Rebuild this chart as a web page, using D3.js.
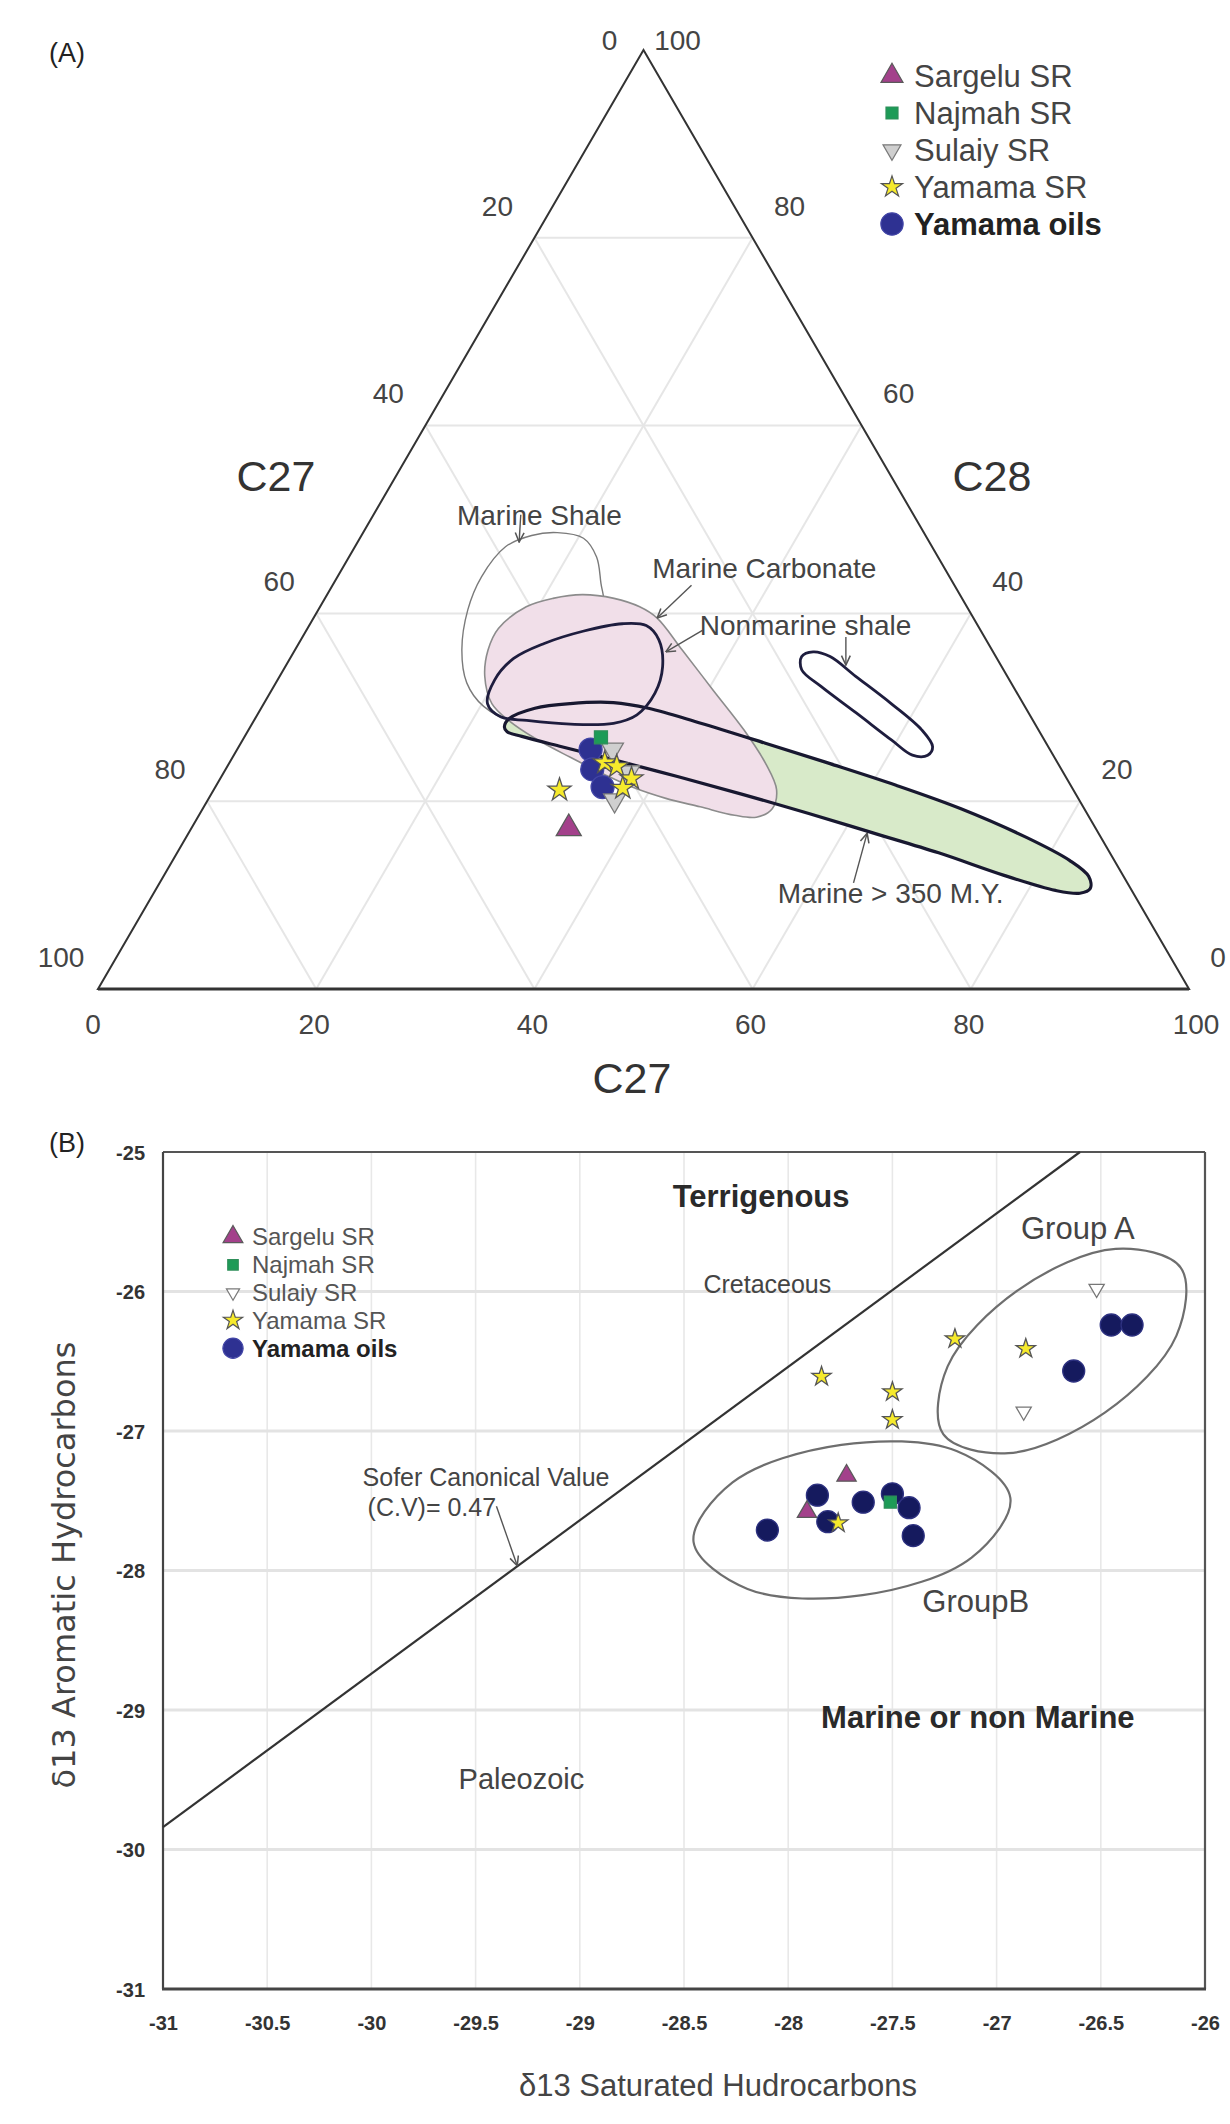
<!DOCTYPE html>
<meta charset="utf-8">
<style>
body { margin: 0; background: #fff; }
svg { display: block; font-family: "Liberation Sans", Arial, sans-serif; }
</style>
<body>
<script src="https://d3js.org/d3.v7.min.js"></script>
<script>

// ---------- data, panel A (ternary, [C27, C28, C29] in %) ----------
var ternTicks = [0, 20, 40, 60, 80, 100];

var sargeluA = [[48.3, 17.1, 34.6]];
var najmahA = [[40.5, 26.8, 32.7]];
var sulaiyA = [[40.1, 25.5, 34.4], [42.6, 20.1, 37.3], [39.8, 23.1, 37.1]];
var yamamaSRA = [[47.1, 21.2, 31.7], [41.5, 24.1, 34.4], [40.6, 23.7, 35.7], [39.9, 22.4, 37.7], [41.2, 21.4, 37.4]];
var yamamaOilsA = [[42.1, 25.5, 32.4], [43.0, 23.4, 33.6], [43.0, 21.5, 35.5]];

var marineShale = [[33.6,48.6,17.8],[31.5,48.0,20.5],[31.3,46.0,22.7],[32.3,43.2,24.5],[33.4,40.4,26.2],[37.8,35.4,26.8],[43.5,30.4,26.1],[47.9,28.8,23.3],[49.6,30.1,20.3],[49.9,32.6,17.5],[48.6,36.1,15.3],[45.9,40.4,13.7],[42.9,43.9,13.2],[39.1,47.1,13.8],[36.1,48.3,15.6]];
var marineCarbonate = [[40.4,40.7,18.9],[37.5,41.6,20.9],[34.6,42.0,23.4],[31.9,41.6,26.5],[30.0,40.7,29.3],[29.0,39.5,31.5],[28.4,36.1,35.5],[27.7,31.8,40.5],[27.0,27.6,45.4],[26.8,24.0,49.2],[27.2,21.2,51.6],[28.6,19.2,52.2],[30.5,18.3,51.2],[32.4,18.5,49.1],[35.1,19.4,45.5],[37.8,20.3,41.9],[40.1,21.4,38.5],[42.1,22.8,35.1],[44.4,24.7,30.9],[46.6,26.7,26.7],[48.0,28.5,23.5],[48.7,30.4,20.9],[47.9,33.3,18.8],[46.2,36.1,17.7],[44.1,38.4,17.5]];
var nonmarineShale = [[49.1,30.4,20.5],[47.2,32.9,19.9],[44.3,35.2,20.5],[40.7,36.8,22.5],[36.5,38.1,25.4],[32.5,38.9,28.6],[30.4,38.7,30.9],[30.0,37.2,32.8],[31.1,34.3,34.6],[33.2,31.5,35.3],[36.0,29.2,34.8],[38.6,28.3,33.1],[42.6,28.2,29.2],[46.4,28.6,25.0],[48.6,29.0,22.4]];
var nonmarineShale2 = [[17.8,35.4,46.8],[16.5,35.9,47.6],[15.2,35.4,49.4],[13.9,33.3,52.8],[12.1,30.4,57.5],[10.7,27.6,61.7],[10.6,25.8,63.6],[11.5,24.9,63.6],[12.9,24.9,62.2],[14.0,26.5,59.5],[15.8,29.4,54.8],[17.6,32.2,50.2],[18.5,34.0,47.5]];
var marine350 = [[48.8,27.9,23.3],[47.9,28.8,23.3],[45.0,29.9,25.1],[41.5,30.4,28.1],[37.5,30.5,32.0],[34.6,29.9,35.5],[30.6,28.3,41.1],[25.8,26.2,48.0],[20.9,24.0,55.1],[16.0,21.7,62.3],[11.3,19.2,69.5],[6.9,16.2,76.9],[4.1,13.7,82.2],[3.2,12.0,84.8],[3.7,10.7,85.6],[4.9,10.2,84.9],[7.0,10.5,82.5],[10.9,12.1,77.0],[15.7,14.5,69.8],[20.6,16.6,62.8],[25.5,18.7,55.8],[30.5,20.7,48.8],[35.5,22.6,41.9],[40.5,24.4,35.1],[44.6,25.8,29.6],[47.7,26.9,25.4],[48.8,27.4,23.8]];

// ---------- data, panel B ([d13C saturates, d13C aromatics]) ----------
var satTicks = [-31, -30.5, -30, -29.5, -29, -28.5, -28, -27.5, -27, -26.5, -26];
var aroTicks = [-31, -30, -29, -28, -27, -26, -25];

var sargeluB = [[-27.72, -27.32], [-27.91, -27.58]];
var najmahB = [[-27.51, -27.51]];
var sulaiyB = [[-26.52, -25.98], [-26.87, -26.86]];
var yamamaSRB = [[-27.84, -26.61], [-27.50, -26.72], [-27.50, -26.92], [-27.20, -26.34], [-26.86, -26.41], [-27.76, -27.66]];
var yamamaOilsB = [[-28.10, -27.71], [-27.86, -27.46], [-27.81, -27.65], [-27.64, -27.51], [-27.50, -27.45], [-27.42, -27.55], [-27.40, -27.75], [-26.45, -26.24], [-26.35, -26.24], [-26.63, -26.57]];

var soferLine = [[-31, -29.84], [-26.6, -25]];
var groupA = [[-26.116,-25.830],[-26.137,-26.316],[-26.479,-26.867],[-26.943,-27.159],[-27.256,-27.023],[-27.235,-26.537],[-26.893,-25.986],[-26.429,-25.694]];
var groupB = [[-26.934,-27.479],[-27.120,-27.907],[-27.643,-28.177],[-28.195,-28.132],[-28.454,-27.797],[-28.267,-27.369],[-27.745,-27.099],[-27.192,-27.144]];

var seriesNames = ["Sargelu SR", "Najmah SR", "Sulaiy SR", "Yamama SR", "Yamama oils"];

// ---------- setup ----------
var svg = d3.select("body").append("svg")
    .attr("width", 1230)
    .attr("height", 2124);

svg.append("rect").attr("width", 1230).attr("height", 2124).attr("fill", "#fff");

svg.append("defs").append("marker")
    .attr("id", "arr")
    .attr("viewBox", "0 0 10 10")
    .attr("refX", 9.5).attr("refY", 5)
    .attr("markerWidth", 11).attr("markerHeight", 11)
    .attr("markerUnits", "userSpaceOnUse")
    .attr("orient", "auto")
  .append("path")
    .attr("d", "M1,1 L9.5,5 L1,9")
    .attr("fill", "none")
    .attr("stroke", "#555")
    .attr("stroke-width", 1.4);

// marker styles (size = d3.symbol area)
var sym = {
  sargelu:  {type: d3.symbolTriangle, fill: "#a3418b", stroke: "#5a5a5a", rot: 0},
  najmah:   {type: d3.symbolSquare,   fill: "#1d9b57", stroke: "#2f8f5a", rot: 0},
  sulaiy:   {type: d3.symbolTriangle, fill: "#cfcfcf", stroke: "#7a7a7a", rot: 180},
  yamamaSR: {type: d3.symbolStar,     fill: "#f6ea2c", stroke: "#555",    rot: 0},
  oils:     {type: d3.symbolCircle,   fill: "#2e3192", stroke: "#4245a6", rot: 0}
};
var order = ["sargelu", "najmah", "sulaiy", "yamamaSR", "oils"];

function drawPts(g, data, key, size, pos, over) {
  var s = Object.assign({}, sym[key], over || {});
  g.append("g").selectAll("path")
      .data(data)
    .enter().append("path")
      .attr("d", d3.symbol(s.type, size))
      .attr("transform", function(d) { return "translate(" + pos(d) + ") rotate(" + s.rot + ")"; })
      .attr("fill", s.fill)
      .attr("stroke", s.stroke)
      .attr("stroke-width", 1.3);
}

// ================= PANEL A : ternary =================
var gA = svg.append("g");

var tx = d3.scaleLinear().domain([0, 100]).range([98, 1189]);
var ty = d3.scaleLinear().domain([0, 100]).range([989, 50]);
function proj(p) { return [tx(p[2] + p[1] / 2), ty(p[1])]; }

var gridSegs = [];
ternTicks.filter(function(v) { return v > 0 && v < 100; }).forEach(function(v) {
  gridSegs.push([[100 - v, v, 0], [0, v, 100 - v]]);
  gridSegs.push([[100 - v, 0, v], [0, 100 - v, v]]);
  gridSegs.push([[v, 100 - v, 0], [v, 0, 100 - v]]);
});
gA.selectAll(".grid")
    .data(gridSegs)
  .enter().append("line")
    .attr("x1", function(d) { return proj(d[0])[0]; })
    .attr("y1", function(d) { return proj(d[0])[1]; })
    .attr("x2", function(d) { return proj(d[1])[0]; })
    .attr("y2", function(d) { return proj(d[1])[1]; })
    .attr("stroke", "#e6e6e6")
    .attr("stroke-width", 2);

var field = d3.line()
    .x(function(d) { return proj(d)[0]; })
    .y(function(d) { return proj(d)[1]; })
    .curve(d3.curveCatmullRomClosed.alpha(0.5));

gA.append("path").attr("d", field(marine350)).attr("fill", "#d8eac9").attr("stroke", "none");
gA.append("path").attr("d", field(marineShale)).attr("fill", "none").attr("stroke", "#7a7a7a").attr("stroke-width", 1.4);
gA.append("path").attr("d", field(marineCarbonate)).attr("fill", "#f1dfe9").attr("stroke", "#8c8c8c").attr("stroke-width", 1.6);
gA.append("path").attr("d", field(marine350)).attr("fill", "none").attr("stroke", "#181830").attr("stroke-width", 3.2);
gA.append("path").attr("d", field(nonmarineShale)).attr("fill", "none").attr("stroke", "#1e1d3e").attr("stroke-width", 2.8);
gA.append("path").attr("d", field(nonmarineShale2)).attr("fill", "none").attr("stroke", "#1e1d3e").attr("stroke-width", 2.8);

// triangle frame
var corners = [[0, 100, 0], [100, 0, 0], [0, 0, 100]];
gA.append("path")
    .attr("d", "M" + corners.map(proj).join("L") + "Z")
    .attr("fill", "none")
    .attr("stroke", "#333")
    .attr("stroke-width", 2);
gA.append("line")
    .attr("x1", proj(corners[1])[0]).attr("y1", proj(corners[1])[1])
    .attr("x2", proj(corners[2])[0]).attr("y2", proj(corners[2])[1])
    .attr("stroke", "#333").attr("stroke-width", 3);

// tick labels
function tickText(p, dx, dy, txt) {
  var q = proj(p);
  gA.append("text")
      .attr("x", q[0] + dx).attr("y", q[1] + dy)
      .attr("text-anchor", "middle")
      .attr("dy", "0.35em")
      .attr("font-size", 28)
      .attr("fill", "#444")
      .text(txt);
}
ternTicks.forEach(function(v) {
  tickText([v, 100 - v, 0], v === 0 ? -34 : -37, v === 0 ? -10 : -32, v);                       // left (C27)
  tickText([0, v, 100 - v], v === 100 ? 34 : (v === 0 ? 29 : 37), v === 100 ? -10 : -32, v);   // right (C28)
  tickText([100 - v, 0, v], v === 0 ? -5 : (v === 100 ? 7 : -2), 35, v);                       // bottom
});

gA.append("text").attr("x", 276).attr("y", 476).attr("dy", "0.35em").attr("text-anchor", "middle")
    .attr("font-size", 43).attr("fill", "#333").text("C27");
gA.append("text").attr("x", 992).attr("y", 476).attr("dy", "0.35em").attr("text-anchor", "middle")
    .attr("font-size", 43).attr("fill", "#333").text("C28");
gA.append("text").attr("x", 632).attr("y", 1078).attr("dy", "0.35em").attr("text-anchor", "middle")
    .attr("font-size", 43).attr("fill", "#333").text("C27");

gA.append("text").attr("x", 67).attr("y", 53).attr("dy", "0.35em").attr("text-anchor", "middle")
    .attr("font-size", 27).attr("fill", "#222").text("(A)");

// field labels and arrows
var notesA = [
  {t: "Marine Shale", at: [42.4, 49.4, 8.2], arrow: [[36.0, 50.5, 13.5], [37.6, 47.6, 14.8]]},
  {t: "Marine Carbonate", at: [27.3, 43.8, 28.9], arrow: [[24.1, 43.0, 32.9], [29.0, 39.5, 31.5]]},
  {t: "Nonmarine shale", at: [26.0, 37.7, 36.3], arrow: [[25.5, 38.2, 36.3], [30.0, 35.9, 34.1]]},
  {t: null, arrow: [[12.7, 37.5, 49.8], [14.2, 34.5, 51.3]]},
  {t: "Marine > 350 M.Y.", at: [33.1, 9.2, 57.7], arrow: [[25.1, 11.3, 63.6], [21.2, 16.6, 62.2]]}
];
notesA.forEach(function(n) {
  var a = proj(n.arrow[0]), b = proj(n.arrow[1]);
  gA.append("line")
      .attr("x1", a[0]).attr("y1", a[1]).attr("x2", b[0]).attr("y2", b[1])
      .attr("stroke", "#555").attr("stroke-width", 1.4)
      .attr("marker-end", "url(#arr)");
  if (n.t) {
    var q = proj(n.at);
    gA.append("text").attr("x", q[0]).attr("y", q[1])
        .attr("font-size", 28).attr("fill", "#444").text(n.t);
  }
});

// points
drawPts(gA, yamamaOilsA, "oils", 415, proj);
drawPts(gA, sulaiyA, "sulaiy", 210, proj);
drawPts(gA, yamamaSRA, "yamamaSR", 165, proj);
drawPts(gA, najmahA, "najmah", 169, proj);
drawPts(gA, sargeluA, "sargelu", 270, proj);

// legend A
var legA = gA.selectAll(".legA")
    .data(seriesNames)
  .enter().append("g")
    .attr("transform", function(d, i) { return "translate(892," + (76 + i * 37) + ")"; });
var legSizeA = [210, 144, 140, 140, 390];
legA.append("path")
    .attr("d", function(d, i) { return d3.symbol(sym[order[i]].type, legSizeA[i])(); })
    .attr("transform", function(d, i) { return "rotate(" + sym[order[i]].rot + ")"; })
    .attr("fill", function(d, i) { return sym[order[i]].fill; })
    .attr("stroke", function(d, i) { return sym[order[i]].stroke; })
    .attr("stroke-width", 1.2);
legA.append("text")
    .attr("x", 22).attr("dy", "0.35em")
    .attr("font-size", 31)
    .attr("font-weight", function(d, i) { return i === 4 ? "bold" : "normal"; })
    .attr("fill", function(d, i) { return i === 4 ? "#222" : "#444"; })
    .text(function(d) { return d; });

// ================= PANEL B : d13C sat vs aro =================
var gB = svg.append("g");

var x = d3.scaleLinear().domain([-31, -26]).range([163, 1205]);
var y = d3.scaleLinear().domain([-31, -25]).range([1989, 1152]);
function pos(d) { return [x(d[0]), y(d[1])]; }

gB.selectAll(".vg")
    .data(satTicks.slice(1, -1))
  .enter().append("line")
    .attr("x1", x).attr("x2", x)
    .attr("y1", y(-25)).attr("y2", y(-31))
    .attr("stroke", "#e8e8e8").attr("stroke-width", 1.6);
gB.selectAll(".hg")
    .data(aroTicks.slice(1, -1))
  .enter().append("line")
    .attr("x1", x(-31)).attr("x2", x(-26))
    .attr("y1", y).attr("y2", y)
    .attr("stroke", "#e3e3e3").attr("stroke-width", 3);

// frame
gB.append("line").attr("x1", x(-31)).attr("x2", x(-26)).attr("y1", y(-25)).attr("y2", y(-25))
    .attr("stroke", "#555").attr("stroke-width", 2.2);
gB.append("line").attr("x1", x(-26)).attr("x2", x(-26)).attr("y1", y(-25)).attr("y2", y(-31))
    .attr("stroke", "#555").attr("stroke-width", 2.2);
gB.append("line").attr("x1", x(-31)).attr("x2", x(-31)).attr("y1", y(-25)).attr("y2", y(-31))
    .attr("stroke", "#444").attr("stroke-width", 2.2);
gB.append("line").attr("x1", x(-31) - 1).attr("x2", x(-26) + 1).attr("y1", y(-31)).attr("y2", y(-31))
    .attr("stroke", "#444").attr("stroke-width", 3.2);

// axes labels
var xAxis = d3.axisBottom(x).tickValues(satTicks).tickSize(0).tickFormat(function(d) { return String(d); });
var yAxis = d3.axisLeft(y).tickValues(aroTicks).tickSize(0).tickFormat(function(d) { return String(d); });
var xa = gB.append("g").attr("transform", "translate(0," + y(-31) + ")").call(xAxis);
var ya = gB.append("g").attr("transform", "translate(" + x(-31) + ",0)").call(yAxis);
[xa, ya].forEach(function(a) {
  a.select(".domain").remove();
  a.selectAll("text")
      .attr("font-family", "'Liberation Sans', Arial, sans-serif")
      .attr("font-size", 20)
      .attr("font-weight", "bold")
      .attr("fill", "#333");
});
xa.selectAll("text").attr("y", 34).attr("dy", "0.35em");
ya.selectAll("text").attr("x", -18).attr("dy", "0.35em");

gB.append("text").attr("x", 718).attr("y", 2085).attr("dy", "0.35em").attr("text-anchor", "middle")
    .attr("font-size", 31).attr("fill", "#444").text("δ13 Saturated Hudrocarbons");
gB.append("text")
    .attr("transform", "translate(64,1565) rotate(-90)")
    .attr("dy", "0.35em").attr("text-anchor", "middle")
    .attr("font-family", "'DejaVu Sans', Verdana, sans-serif")
    .attr("font-size", 32).attr("fill", "#444")
    .text("δ13 Aromatic Hydrocarbons");

gB.append("text").attr("x", 67).attr("y", 1143).attr("dy", "0.35em").attr("text-anchor", "middle")
    .attr("font-size", 27).attr("fill", "#222").text("(B)");

// Sofer line and groups
gB.append("line")
    .attr("x1", x(soferLine[0][0])).attr("y1", y(soferLine[0][1]))
    .attr("x2", x(soferLine[1][0])).attr("y2", y(soferLine[1][1]))
    .attr("stroke", "#333").attr("stroke-width", 2.2);

var loop = d3.line()
    .x(function(d) { return x(d[0]); })
    .y(function(d) { return y(d[1]); })
    .curve(d3.curveCatmullRomClosed.alpha(0.5));
[groupA, groupB].forEach(function(g) {
  gB.append("path").attr("d", loop(g)).attr("fill", "none").attr("stroke", "#6e6e6e").attr("stroke-width", 2.2);
});

// annotations
var notesB = [
  {t: "Terrigenous", at: [-28.13, -25.32], size: 31, bold: true},
  {t: "Cretaceous", at: [-28.10, -25.95], size: 25},
  {t: "Group A", at: [-26.61, -25.545], size: 31},
  {t: "GroupB", at: [-27.10, -28.22], size: 31},
  {t: "Sofer Canonical Value", at: [-29.45, -27.33], size: 25},
  {t: "(C.V)= 0.47", at: [-29.71, -27.55], size: 25},
  {t: "Marine or non Marine", at: [-27.09, -29.05], size: 31, bold: true},
  {t: "Paleozoic", at: [-29.28, -29.495], size: 29}
];
notesB.forEach(function(n) {
  gB.append("text")
      .attr("x", x(n.at[0])).attr("y", y(n.at[1]))
      .attr("dy", "0.35em").attr("text-anchor", "middle")
      .attr("font-size", n.size)
      .attr("font-weight", n.bold ? "bold" : "normal")
      .attr("fill", n.bold ? "#2a2a2a" : "#444")
      .text(n.t);
});
gB.append("line")
    .attr("x1", x(-29.40)).attr("y1", y(-27.54))
    .attr("x2", x(-29.30)).attr("y2", y(-27.966))
    .attr("stroke", "#555").attr("stroke-width", 1.4)
    .attr("marker-end", "url(#arr)");

// points
drawPts(gB, yamamaOilsB, "oils", 380, pos, {fill: "#151a5e", stroke: "#2d3180"});
drawPts(gB, sargeluB, "sargelu", 160, pos);
drawPts(gB, sulaiyB, "sulaiy", 100, pos, {fill: "#fff", stroke: "#777"});
drawPts(gB, najmahB, "najmah", 144, pos);
drawPts(gB, yamamaSRB, "yamamaSR", 115, pos);

// legend B
var legB = gB.selectAll(".legB")
    .data(seriesNames)
  .enter().append("g")
    .attr("transform", function(d, i) { return "translate(233," + (1237 + i * 27.8) + ")"; });
var legSizeB = [170, 110, 75, 115, 320];
legB.append("path")
    .attr("d", function(d, i) { return d3.symbol(sym[order[i]].type, legSizeB[i])(); })
    .attr("transform", function(d, i) { return "rotate(" + sym[order[i]].rot + ")"; })
    .attr("fill", function(d, i) { return i === 2 ? "#fff" : sym[order[i]].fill; })
    .attr("stroke", function(d, i) { return sym[order[i]].stroke; })
    .attr("stroke-width", 1.2);
legB.append("text")
    .attr("x", 19).attr("dy", "0.35em")
    .attr("font-size", 24)
    .attr("font-weight", function(d, i) { return i === 4 ? "bold" : "normal"; })
    .attr("fill", function(d, i) { return i === 4 ? "#222" : "#555"; })
    .text(function(d) { return d; });

</script>
